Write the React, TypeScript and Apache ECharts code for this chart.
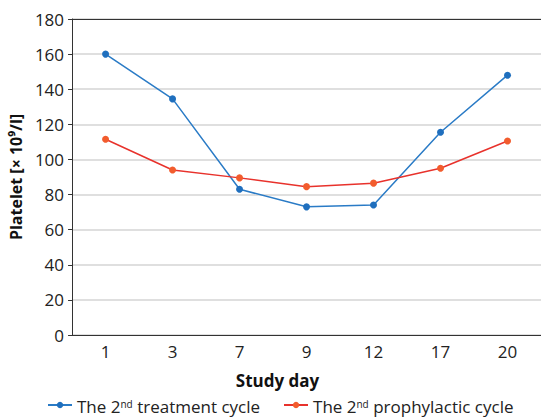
import React, { useEffect, useRef } from "react";
import * as echarts from "echarts";

const days = ["1", "3", "7", "9", "12", "17", "20"];
const treatment = [160, 134.5, 83, 73, 74, 115.5, 148];
const prophylactic = [111.5, 94, 89.5, 84.5, 86.5, 95, 110.5];
const yTicks = { min: 0, max: 180, interval: 20 };

const FONT = "'Open Sans', 'Noto Sans', sans-serif";

export default function App() {
  const ref = useRef<HTMLDivElement>(null);
  useEffect(() => {
    const chart = echarts.init(ref.current!, null, { renderer: "svg" });
    const rich = {
      a: { fontSize: 17, fontFamily: FONT, color: "#222", verticalAlign: "bottom", lineHeight: 20 },
      s: {
        fontSize: 10,
        fontFamily: FONT,
        color: "#222",
        verticalAlign: "bottom",
        lineHeight: 14,
        padding: [0, 0, 6, 0],
      },
    };
    chart.setOption({
      animation: false,
      grid: { left: 71, right: 0, top: 19, bottom: 82 },
      legend: {
        bottom: -3,
        left: 42,
        itemGap: 23,
        itemWidth: 24,
        itemHeight: 8,
        data: ["treatment", "prophylactic"],
        formatter: (n: string) =>
          n === "treatment"
            ? "{a|The 2}{s|nd}{a| treatment cycle}"
            : "{a|The 2}{s|nd}{a| prophylactic cycle}",
        textStyle: { rich, fontFamily: FONT, fontSize: 17 },
      },
      xAxis: [
        {
          type: "category",
          data: days,
          boundaryGap: true,
          name: "Study day",
          nameLocation: "middle",
          nameGap: 37,
          nameTextStyle: {
            fontFamily: FONT,
            fontSize: 17,
            fontWeight: "bold",
            color: "#111",
            padding: [0, 58, 0, 0],
          },
          axisLine: { lineStyle: { color: "#333", width: 1 } },
          axisTick: { show: false },
          axisLabel: { fontFamily: FONT, fontSize: 17, color: "#222", margin: 8 },
        },
        {
          type: "category",
          data: days,
          position: "top",
          axisLine: { show: true, lineStyle: { color: "#333", width: 1 } },
          axisTick: { show: false },
          axisLabel: { show: false },
        },
      ],
      yAxis: {
        type: "value",
        min: yTicks.min,
        max: yTicks.max,
        interval: yTicks.interval,
        name: "Platelet [× 10⁹/l]",
        nameLocation: "middle",
        nameGap: 45,
        nameRotate: 90,
        nameTextStyle: { fontFamily: FONT, fontSize: 16, fontWeight: "bold", color: "#111" },
        axisLine: { show: true, lineStyle: { color: "#333", width: 1 } },
        axisTick: { show: true, length: 4, lineStyle: { color: "#333" } },
        axisLabel: { fontFamily: FONT, fontSize: 17, color: "#222", margin: 8 },
        splitLine: { lineStyle: { color: "#d4d4d4", width: 1.5 } },
      },
      series: [
        {
          name: "treatment",
          type: "line",
          data: treatment,
          symbol: "circle",
          symbolSize: 7,
          lineStyle: { color: "#2a7bc6", width: 1.5 },
          itemStyle: { color: "#1f6fbe" },
        },
        {
          name: "prophylactic",
          type: "line",
          data: prophylactic,
          symbol: "circle",
          symbolSize: 7,
          lineStyle: { color: "#e8322c", width: 1.5 },
          itemStyle: { color: "#f25c2d" },
        },
      ],
    });
    return () => chart.dispose();
  }, []);
  return (
    <div
      ref={ref}
      style={{ position: "absolute", left: 0, top: 0, width: 541, height: 417 }}
    />
  );
}
